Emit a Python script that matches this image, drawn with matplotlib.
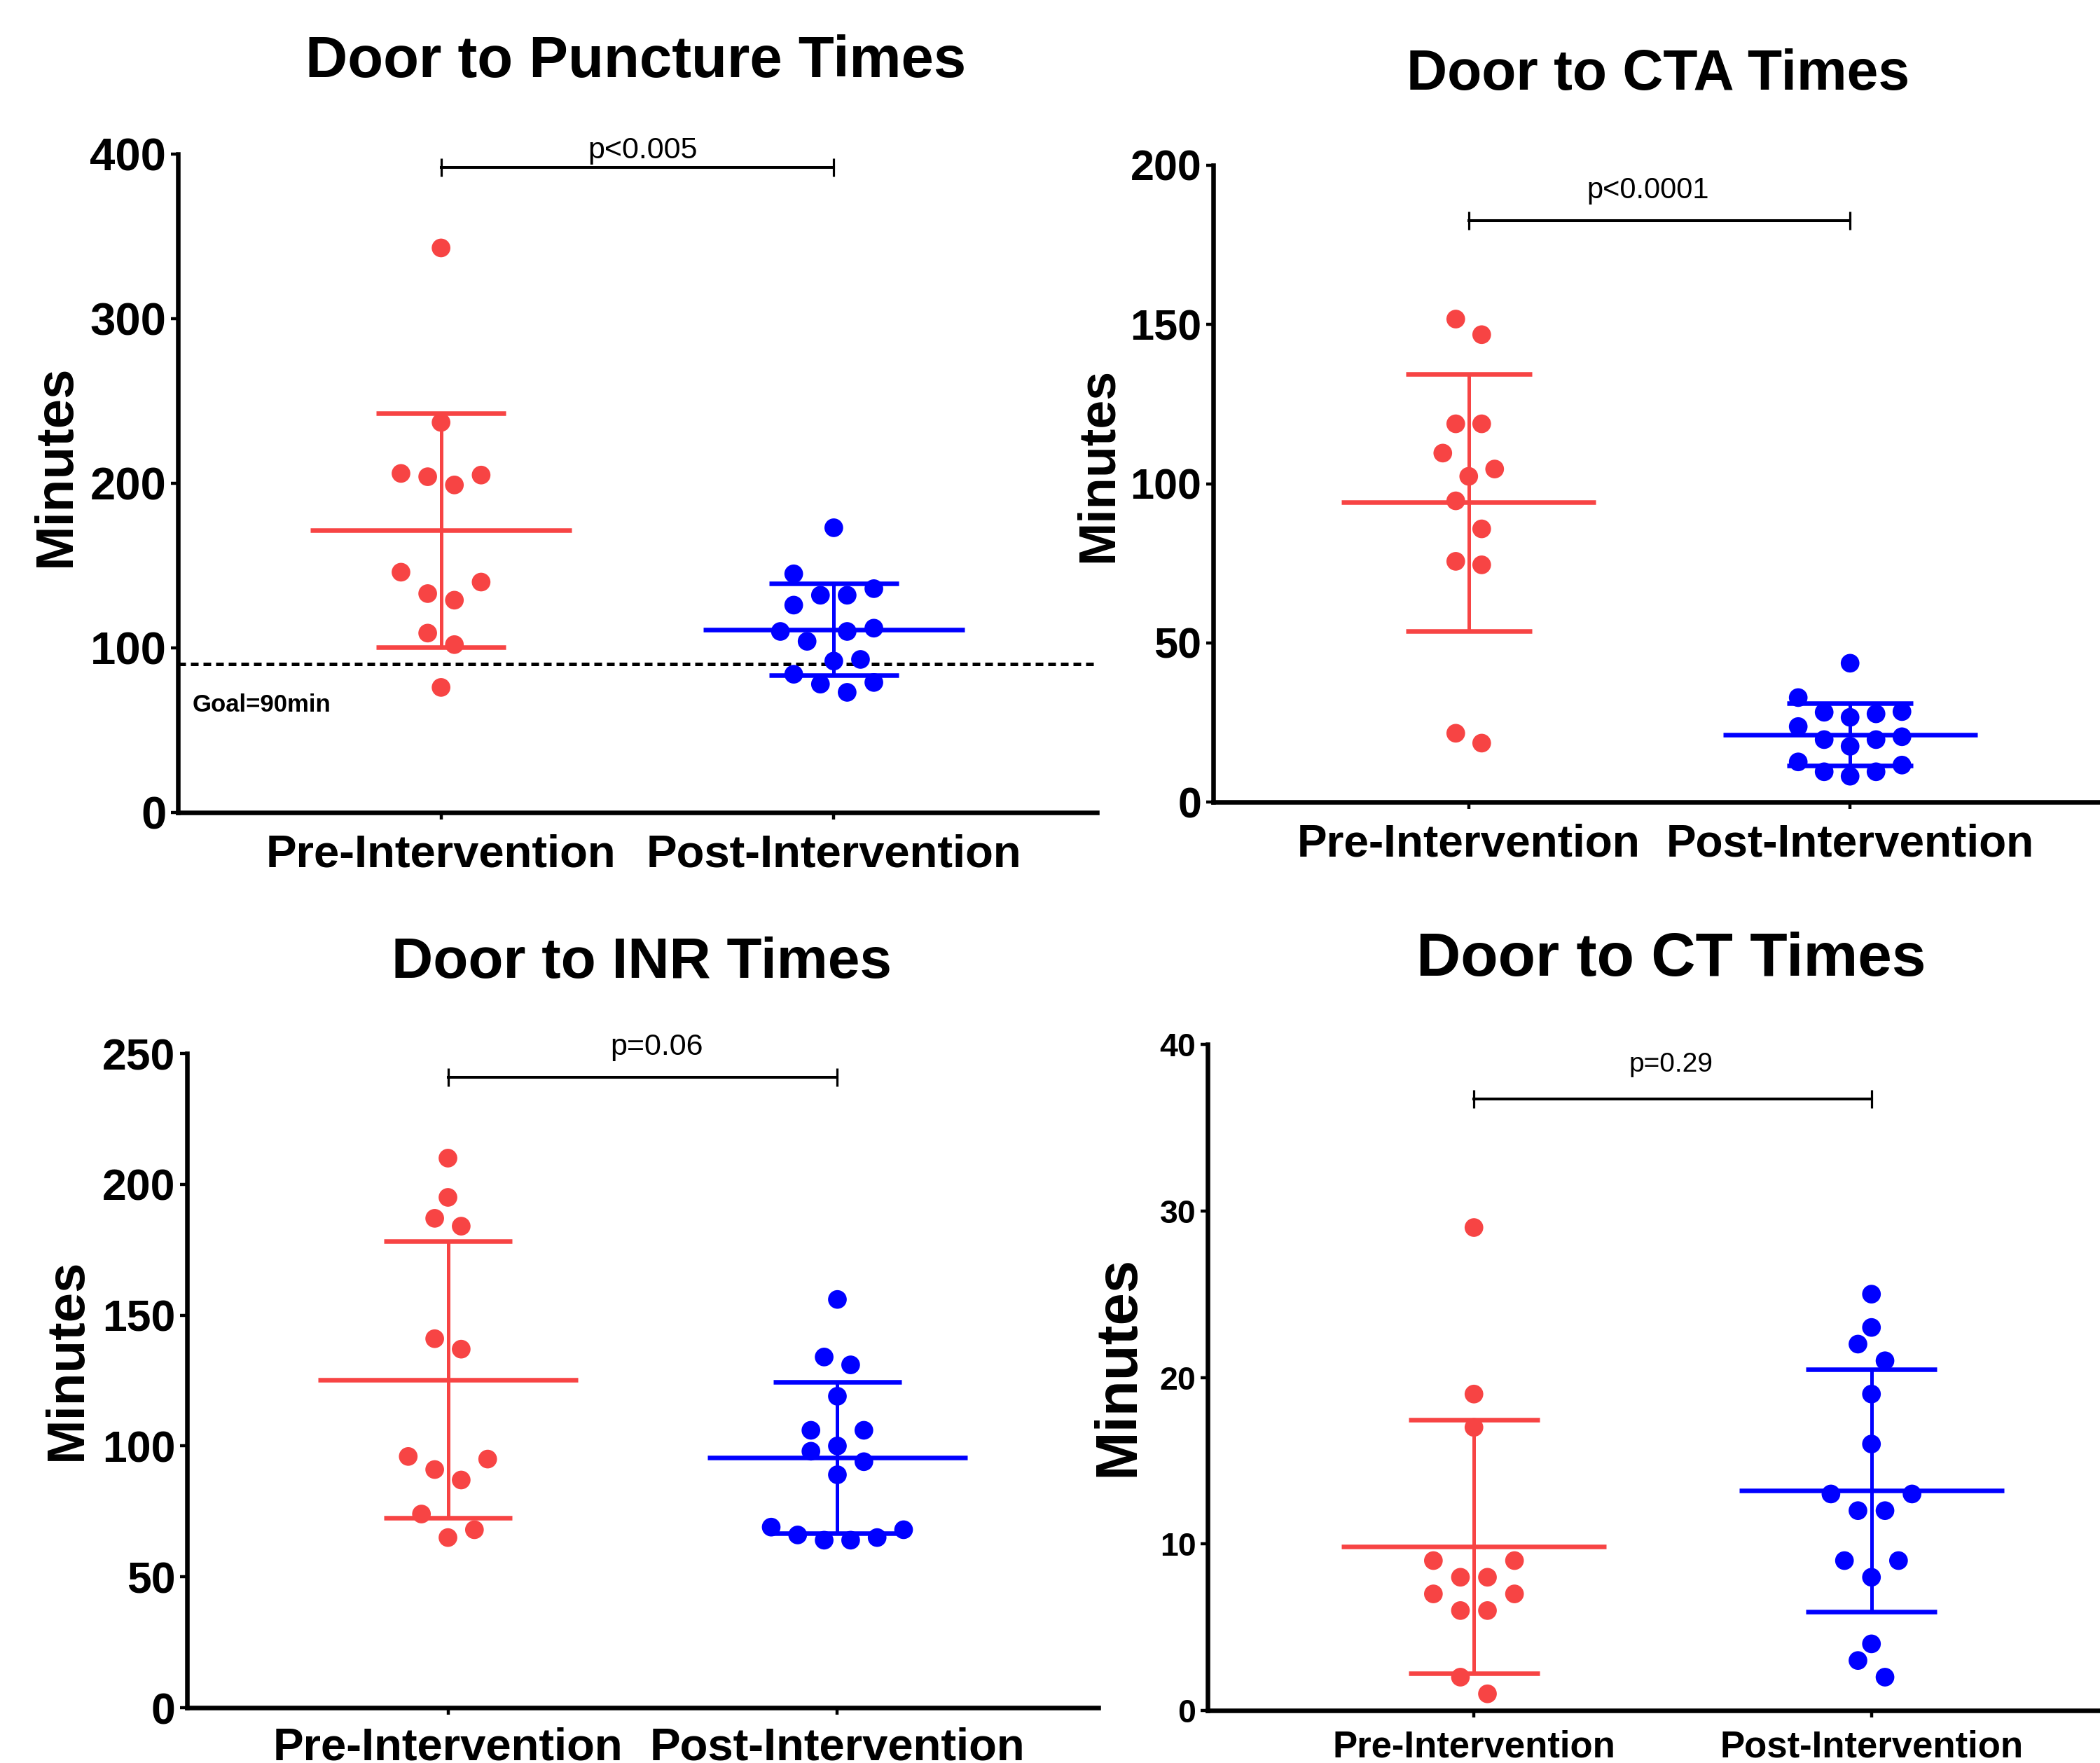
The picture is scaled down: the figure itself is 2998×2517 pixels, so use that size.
import numpy as np
import matplotlib
matplotlib.use("Agg")
import matplotlib.pyplot as plt

# -------------------------
# Data (minutes)
# -------------------------

groups = ["Pre-Intervention", "Post-Intervention"]

puncture_pre = [343, 237, 206, 204, 199, 205, 146, 140, 133, 129, 109, 102, 76]
puncture_post = [173, 145, 136, 132, 132, 126, 110, 112, 110, 104, 93, 92, 84, 79, 78, 73]

cta_pre = [151.7, 146.8, 118.8, 118.8, 109.6, 104.6, 102.3, 94.6, 85.8, 75.6, 74.5, 21.6, 18.5]
cta_post = [43.6, 32.8, 28.4, 28.2, 27.7, 26.6, 23.7, 20.5, 19.6, 19.6, 17.5, 12.6, 11.6, 9.5, 9.5, 8.1]

inr_pre = [210, 195, 187, 184, 141, 137, 96, 95, 91, 87, 74, 68, 65]
inr_post = [156, 134, 131, 119, 106, 106, 100, 98, 94, 89, 69, 68, 66, 65, 64, 64]

ct_pre = [29, 19, 17, 9, 9, 8, 8, 7, 7, 6, 6, 2, 1]
ct_post = [25, 23, 22, 21, 19, 16, 13, 13, 12, 12, 9, 9, 8, 4, 3, 2]

titles = ["Door to Puncture Times", "Door to CTA Times", "Door to INR Times", "Door to CT Times"]
p_labels = ["p<0.005", "p<0.0001", "p=0.06", "p=0.29"]
goal_minutes = 90

# -------------------------
# Style
# -------------------------

W, H, DPI = 2998, 2517, 100
RED = "#F74444"
BLUE = "#0000FF"

plt.rcParams["font.family"] = "Liberation Sans"

fig = plt.figure(figsize=(W / DPI, H / DPI), dpi=DPI)


def add_axes_px(left, top, right, bottom):
    return fig.add_axes([left / W, 1 - bottom / H, (right - left) / W, (bottom - top) / H])


def swarm_offsets(ax, values, step=0.034, bin_px=40.5, min_px=26):
    # GraphPad-like scatter: points grouped in rows, larger values on the outside
    vals = np.asarray(values, float)
    ypx = ax.transData.transform(np.column_stack([np.zeros_like(vals), vals]))[:, 1]
    x0 = ax.transData.transform([[0, 0]])[0, 0]
    x1 = ax.transData.transform([[1, 0]])[0, 0]
    step_px = step * (x1 - x0)

    bins = []
    for i in np.argsort(vals, kind="stable"):
        if bins and ypx[i] - ypx[bins[-1][0]] < bin_px:
            bins[-1].append(i)
        else:
            bins.append([i])

    offs = np.zeros(len(vals))
    placed = []
    for b in bins:
        n = len(b)
        slots = sorted([2 * k - (n - 1) for k in range(n)], key=lambda s: (-abs(s), s))
        members = sorted(b, key=lambda i: -vals[i])
        for i, s in zip(members, slots):
            k = s
            direction = -1 if k < 0 else 1
            while any(np.hypot((k - pk) * step_px, ypx[i] - py) < min_px for pk, py in placed):
                k += direction
            placed.append((k, ypx[i]))
            offs[i] = k * step
    return offs


def draw_panel(ax, pre, post, ymax, ystep, ytick_fs, xtick_fs, xpad):
    ax.set_xlim(-0.67, 1.67)
    ax.set_ylim(0, ymax)

    for i, (vals, color) in enumerate(zip([pre, post], [RED, BLUE])):
        m = np.mean(vals)
        sd = np.std(vals, ddof=1)
        ax.plot([i - 0.333, i + 0.333], [m, m], color=color, lw=4.7,
                solid_capstyle="butt", zorder=2)
        ax.plot([i, i], [m - sd, m + sd], color=color, lw=3.6, zorder=2)
        for y in (m - sd, m + sd):
            ax.plot([i - 0.165, i + 0.165], [y, y], color=color, lw=4.7,
                    solid_capstyle="butt", zorder=2)
        offs = swarm_offsets(ax, vals)
        ax.scatter(i + offs, vals, s=369, color=color, edgecolors="none",
                   zorder=3, clip_on=False)

    for side in ["top", "right"]:
        ax.spines[side].set_visible(False)
    for side in ["left", "bottom"]:
        ax.spines[side].set_linewidth(4.7)

    ax.set_yticks(np.arange(0, ymax + 1, ystep))
    ax.set_xticks([0, 1])
    ax.set_xticklabels(groups)
    ax.tick_params(axis="both", direction="out", length=7, width=3.2)
    ax.tick_params(axis="y", labelsize=ytick_fs, pad=5)
    ax.tick_params(axis="x", labelsize=xtick_fs, pad=xpad)
    for lab in ax.get_xticklabels() + ax.get_yticklabels():
        lab.set_fontweight("bold")


def bracket(ax, y, text_y, text_x, label, fs):
    ax.plot([0, 1], [y, y], color="black", lw=2.9, marker="|", ms=19,
            mew=2.3, clip_on=False, zorder=4)
    ax.text(text_x, text_y, label, ha="center", va="center", fontsize=fs,
            clip_on=False)


# -------------------------
# Panels
# -------------------------

ax1 = add_axes_px(254, 220, 1566, 1160)
ax2 = add_axes_px(1732, 236, 3006, 1145)
ax3 = add_axes_px(267, 1504, 1568, 2438)
ax4 = add_axes_px(1724, 1491, 3052, 2442)

draw_panel(ax1, puncture_pre, puncture_post, 400, 100, 47, 47, 15)
draw_panel(ax2, cta_pre, cta_post, 200, 50, 44, 46, 15)
draw_panel(ax3, inr_pre, inr_post, 250, 50, 45, 47, 13)
draw_panel(ax4, ct_pre, ct_post, 40, 10, 33.5, 38, 13)

# goal line on the puncture panel
ax1.axhline(goal_minutes, color="black", lw=3.6, linestyle=(0, (2.2, 1.4)), zorder=1)
ax1.text(-0.633, 65.4, "Goal=90min", ha="left", va="center", fontsize=25,
         fontweight="bold")

bracket(ax1, 392, 402, 0.514, p_labels[0], 31)
bracket(ax2, 182.6, 192, 0.47, p_labels[1], 30)
bracket(ax3, 241, 252.5, 0.536, p_labels[2], 31)
bracket(ax4, 36.7, 38.8, 0.495, p_labels[3], 28)

# titles
title_pos = [(908, 88, 60), (2367, 107, 58), (916, 1375, 59), (2386, 1371, 63)]
for t, (x, y, fs) in zip(titles, title_pos):
    fig.text(x / W, 1 - y / H, t, ha="center", va="center", fontsize=fs,
             fontweight="bold")

# y labels
ylabel_pos = [(80, 665, 55), (1568, 664, 53), (96, 1941, 55), (1596, 1950, 60)]
for x, y, fs in ylabel_pos:
    fig.text(x / W, 1 - y / H, "Minutes", ha="center", va="center", rotation=90,
             fontsize=fs, fontweight="bold")

fig.savefig("out.png", dpi=DPI)
